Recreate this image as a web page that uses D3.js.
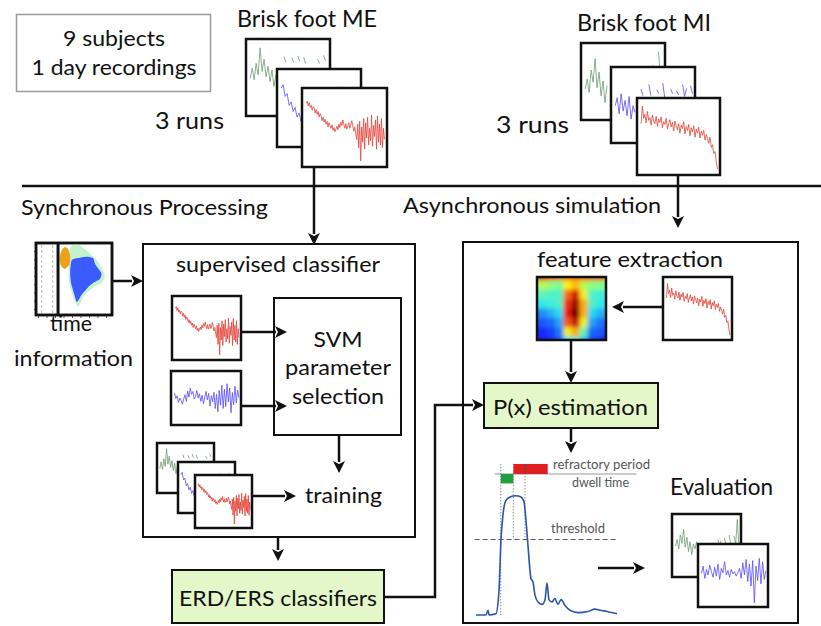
<!DOCTYPE html>
<html><head><meta charset="utf-8">
<script src="https://cdn.jsdelivr.net/npm/d3@7"></script>
<style>body{margin:0;background:#fff}svg{display:block}text{font-family:Lato,"Open Sans",sans-serif}</style>
</head><body><svg id="c" width="821" height="626"></svg>
<script>
// ---------- data ----------
const redME = [8.6,8.9,8.2,8.7,8.0,8.3,7.6,8.1,7.9,7.2,7.7,7.0,7.4,6.6,7.1,6.8,6.1,6.6,5.9,6.3,5.6,6.0,5.2,5.8,5.4,5.0,5.5,4.7,5.1,4.5,4.9,5.3,4.8,5.6,5.1,5.9,5.4,6.2,5.5,5.0,5.7,4.9,5.3,5.8,5.0,5.5,6.1,5.3,4.6,5.2,4.2,3.4,5.6,2.2,6.0,0.3,5.2,3.0,6.4,2.0,5.8,3.6,6.6,2.6,5.0,3.2,6.9,2.4,5.4,3.8,6.2,2.0,6.8,3.0,5.6,2.6,6.4,2.2,5.0,3.4];
const redMI = [7.0,9.6,7.8,8.4,7.1,8.8,7.5,7.9,6.8,8.3,7.4,7.0,8.1,6.6,7.7,7.2,8.0,6.4,7.3,6.9,7.8,6.2,7.0,7.6,6.5,7.2,5.9,7.4,6.7,6.1,7.0,5.6,6.8,6.3,7.3,5.5,6.6,6.0,6.9,5.2,6.4,5.8,6.7,5.0,6.2,5.6,6.5,4.9,5.9,5.3,6.0,4.6,5.4,4.8,4.1,5.0,3.5,3.9,2.6,2.9,1.4,0.3];
const blueSVM = [6.2,5.0,5.6,4.2,5.1,4.6,3.8,4.9,5.8,4.4,6.6,5.3,7.2,5.9,6.5,4.9,5.4,6.7,5.1,6.0,4.4,5.7,3.9,5.2,6.5,4.7,6.1,3.4,5.6,4.3,6.3,2.9,5.9,2.2,6.7,3.6,7.8,2.9,7.0,3.3,8.1,4.3,7.2,2.0,6.3,3.7,7.6,4.1,6.8,5.2];
const greenME = [5,6.5,4.8,7.2,5.5,9.5,6,7.8,5.2,6.8,4.5,6.2,3.8,5.5,4.2,null,null,8.2,7.4,null,null,8.0,7.3,null,8.3,7.5,null,8.1,7.2,null,null,null,null,null,7.8,7.2,null,8.4,7.6,null];
const blueME = [8,8.5,6.8,7.2,5.5,6,4.6,5.2,3.8,4.4,3.2,4.0,null,null,null,null,null,7.8,7.3,null,null,null,7.6,7.2,null,null,null,null,null,8.2,7.0,null,null,8.0,7.0,null,8.2,7.2,null,null];
const greenMI = [4,5.5,3.5,6.8,5,8.5,4.2,6.5,3,5.2,2,4.5,null,null,null,null,null,null,null,null,null,6.5,6,null,null,6.8,6.2,null,7,6,null,6.8,6.4,null,7.5,6.2,null,9.5,5.5,null];
const blueMI = [5,6.2,3.8,6.8,4.2,5.8,3.5,6.4,3,5,4,null,null,7.5,6.5,null,null,8.2,6.5,null,null,7.4,6.8,null,8.4,6.2,null,null,7.5,6.8,null,7.2,6.6,null,8.2,6.4,7.6,null,8.0,6.8];
const evalGreen = [5,6.2,4.5,7,5.5,8,4.8,6.6,4,5.8,3.5,5.4,4.5,5.8,4.2,null,null,5.2,4.8,null,5.4,5,null,5.6,5.1,null,6.2,5.2,6.0,null,6.5,5.3,null,7.0,5.2,null,6.8,5.4,9.8,5.0];
const evalBlue = [5.5,6.8,4.6,6.2,5.2,7.0,5.8,4.8,6.6,5.0,7.2,4.4,6.4,5.6,7.6,5.2,6.0,4.8,6.2,5.4,5.8,5.0,5.6,6.4,4.6,7.4,5.2,8.0,4.0,7.2,3.2,7.8,0.2,6.8,4.2,8.2,3.6,7.6,4.4,6.0];
// time-frequency map blobs (relative panel coords)
const tfHalo = [[0.45,0.06],[0.55,0.02],[0.66,0.1],[0.8,0.24],[0.9,0.42],[0.88,0.53],[0.78,0.6],[0.64,0.72],[0.56,0.88],[0.5,0.78],[0.44,0.56],[0.43,0.3]];
const tfBlue = [[0.47,0.24],[0.55,0.21],[0.66,0.19],[0.75,0.21],[0.78,0.3],[0.86,0.42],[0.84,0.5],[0.76,0.55],[0.68,0.62],[0.6,0.72],[0.54,0.82],[0.5,0.7],[0.46,0.55],[0.45,0.4]];
const tfOrange = [[0.33,0.12],[0.37,0.06],[0.42,0.08],[0.45,0.18],[0.44,0.3],[0.38,0.36],[0.33,0.32],[0.31,0.22]];
// feature-extraction map (rows top->bottom)
const featureMap = [
 [0.88,0.9,0.85,0.8,0.78,0.8,0.82,0.86,0.84,0.8],
 [0.5,0.55,0.5,0.48,0.62,0.68,0.55,0.5,0.5,0.45],
 [0.42,0.44,0.42,0.42,0.78,0.9,0.6,0.42,0.4,0.38],
 [0.35,0.38,0.4,0.42,0.85,0.97,0.7,0.42,0.38,0.35],
 [0.22,0.25,0.3,0.35,0.88,1.0,0.7,0.35,0.3,0.28],
 [0.15,0.18,0.2,0.28,0.8,0.92,0.6,0.28,0.22,0.2],
 [0.1,0.12,0.15,0.22,0.6,0.7,0.45,0.2,0.18,0.15],
 [0.08,0.1,0.12,0.18,0.35,0.4,0.3,0.15,0.12,0.12]];
// probability output over time
const probT = [0,7,8.5,9.2,14,16.2,17.6,19,21,24,28,31.7,33.8,35.2,36.6,38,38.7,40.1,41.5,43.7,46.5,48.6,50,51.4,53.5,55.6,57.7,59.9,62.7,66.2,71.8,78.9,83.8,87.3,92.3,99.3];
const probP = [0,0,0.04,0,0.01,0.21,0.64,0.85,0.97,1.0,1.01,1.0,0.96,0.8,0.59,0.38,0.31,0.28,0.17,0.11,0.09,0.13,0.27,0.13,0.11,0.14,0.09,0.13,0.08,0.04,0.02,0.03,0.05,0.04,0.03,0.01];
const thresholdLevel = 0.64;
const dwellWindow = [17.4,26.3];
const refractoryWindow = [26.3,50.5];
const refractoryMark = 34.5;

// ---------- drawing ----------
const svg = d3.select("#c");
const INK = "#111";
const RED = "#e2453c", BLUE = "#5a4dff", GREEN = "#6f9c72";
const BOXGREEN = "#e4f7c9";

function txt(s,x,y,size,w,anchor,color){
  const t = svg.append("text").attr("x",x).attr("y",y).attr("font-size",size)
    .attr("text-anchor",anchor||"start").attr("fill",color||INK).text(s);
  if(w) t.attr("textLength",w).attr("lengthAdjust","spacingAndGlyphs");
  return t;
}
function rect(x,y,w,h,opt){
  opt = opt||{};
  return svg.append("rect").attr("x",x).attr("y",y).attr("width",w).attr("height",h)
    .attr("fill",opt.fill||"#fff").attr("stroke",opt.stroke||INK).attr("stroke-width",opt.sw||2);
}
function arrow(pts){
  const hl = 12, hw = 6;
  const n = pts.length, [x1,y1] = pts[n-2], [x2,y2] = pts[n-1];
  const L = Math.hypot(x2-x1,y2-y1), ux=(x2-x1)/L, uy=(y2-y1)/L;
  const bx = x2-ux*hl, by = y2-uy*hl;
  const line = pts.slice(0,n-1).concat([[bx+ux*1,by+uy*1]]);
  svg.append("path").attr("d",d3.line()(line)).attr("fill","none").attr("stroke",INK).attr("stroke-width",2.5);
  svg.append("path").attr("d",d3.line()([[x2,y2],[bx-uy*hw,by+ux*hw],[bx+ux*3,by+uy*3],[bx+uy*hw,by-ux*hw]])+"Z").attr("fill",INK);
}
function panel(x,y,w,h,vals,color){
  rect(x,y,w,h,{sw:2.5});
  if(!vals) return;
  const xs = d3.scaleLinear().domain([0,vals.length-1]).range([x+w*0.05,x+w*0.97]);
  const ys = d3.scaleLinear().domain([0,10]).range([y+h*0.95,y+h*0.07]);
  const ln = d3.line().defined(d=>d!=null).x((d,i)=>xs(i)).y(d=>ys(d));
  svg.append("path").attr("d",ln(vals)).attr("fill","none").attr("stroke",color).attr("stroke-width",0.9).attr("opacity",0.9);
}

// header box
rect(16.5,14.5,194,77,{stroke:"#9a9a9a",sw:1.5});
txt("9 subjects",114,46,21,102,"middle");
txt("1 day recordings",114,75,21,165,"middle");

txt("Brisk foot ME",237,27,23,140);
txt("Brisk foot MI",577,31,23,134);
txt("3 runs",155,129,23,69);
txt("3 runs",496,133,23,73);

// stacks of runs
panel(246,39,84,77,greenME,GREEN);
panel(277,69,84,78,blueME,BLUE);
panel(302,88,85,79,redME,RED);
panel(581,43,84,77,greenMI,GREEN);
panel(611,67,84,76,blueMI,BLUE);
panel(637,98,83,77,redMI,RED);

// divider
svg.append("line").attr("x1",22).attr("x2",821).attr("y1",186).attr("y2",186).attr("stroke",INK).attr("stroke-width",2.5);
txt("Synchronous Processing",21,215,22,247);
txt("Asynchronous simulation",403,213,22,258);
arrow([[314,167],[314,245]]);
arrow([[678,176],[678,228]]);

// main boxes
rect(143,244,272,293,{sw:2});
rect(463,242,335,381,{sw:2});
txt("supervised classifier",176,272,21,204);
txt("feature extraction",537,267,21,186);

// time-frequency map
(function(){
  const x0=36,y0=243,w=76,h=72;
  rect(x0,y0,w,h,{sw:2.5});
  const sx=d3.scaleLinear().domain([0,1]).range([x0,x0+w]);
  const sy=d3.scaleLinear().domain([0,1]).range([y0,y0+h]);
  const blob=d3.line().x(d=>sx(d[0])).y(d=>sy(d[1])).curve(d3.curveCardinalClosed.tension(0.3));
  [0.075,0.22].forEach(v=>svg.append("line").attr("x1",sx(v)).attr("x2",sx(v)).attr("y1",y0+2).attr("y2",y0+h-2)
     .attr("stroke","#bbb").attr("stroke-width",1).attr("stroke-dasharray","3,2"));
  svg.append("path").attr("d",blob(tfHalo)).attr("fill","#c4f2cc");
  svg.append("path").attr("d",blob(tfBlue)).attr("fill","#3b5bff");
  svg.append("path").attr("d",blob(tfOrange)).attr("fill","#eba21a");
  svg.append("line").attr("x1",sx(0.29)).attr("x2",sx(0.29)).attr("y1",y0).attr("y2",y0+h).attr("stroke",INK).attr("stroke-width",3);
  const ay=d3.axisLeft(d3.scaleLinear().domain([0,7]).range([y0+h-6,y0+8])).ticks(7).tickSize(2).tickFormat("");
  svg.append("g").attr("transform",`translate(${x0},0)`).call(ay).call(g=>g.select(".domain").remove()).selectAll("line").attr("stroke","#555");
  const ax=d3.axisBottom(d3.scaleLinear().domain([0,8]).range([x0+2,x0+w-6])).ticks(8).tickSize(3).tickFormat("");
  svg.append("g").attr("transform",`translate(0,${y0+h})`).call(ax).call(g=>g.select(".domain").remove()).selectAll("line").attr("stroke","#555");
  rect(x0,y0,w,h,{fill:"none",sw:2.5});
})();
arrow([[112,281],[143,281]]);
txt("time",50,331,21,42);
txt("information",14,366,21,119);

// supervised classifier content
panel(172,296,69,64,redME,RED);
panel(171,371,70,54,blueSVM,BLUE);
rect(274,298,127,137,{sw:2});
txt("SVM",338,347,22,49,"middle");
txt("parameter",338,375,22,106,"middle");
txt("selection",338,404,22,92,"middle");
arrow([[241,332],[287,332]]);
arrow([[241,406],[287,406]]);
arrow([[339,435],[339,473]]);
panel(157,443,57,50,greenME,GREEN);
panel(178,462,57,51,blueME,BLUE);
panel(195,475,57,53,redME,RED);
arrow([[252,496],[296,496]]);
txt("training",305,503,21,77);

// classifiers
arrow([[278,537],[278,561]]);
rect(172,570,212,53,{fill:BOXGREEN,sw:2});
txt("ERD/ERS classifiers",179,606,22,198);
arrow([[384,597],[435,597],[435,405],[484,405]]);

// feature extraction
(function(){
  const x0=537,y0=277,w=69,h=63;
  const id="clipHM";
  const defs=svg.append("defs");
  defs.append("clipPath").attr("id",id).append("rect").attr("x",x0).attr("y",y0).attr("width",w).attr("height",h);
  defs.append("filter").attr("id","blurHM").attr("x","-20%").attr("y","-20%").attr("width","140%").attr("height","140%")
    .append("feGaussianBlur").attr("stdDeviation",2.2);
  const jet=d3.scaleLinear().domain([0,0.12,0.37,0.5,0.62,0.87,1])
    .range(["#00007f","#1428ff","#2ce8f0","#8cff80","#ffee10","#f02010","#7a0000"]);
  const rows=featureMap.length, cols=featureMap[0].length;
  const m=6;
  const cx=d3.scaleLinear().domain([0,cols]).range([x0-m,x0+w+m]);
  const cy=d3.scaleLinear().domain([0,rows]).range([y0-m,y0+h+m]);
  const g=svg.append("g").attr("clip-path",`url(#${id})`).append("g").attr("filter","url(#blurHM)");
  featureMap.forEach((row,r)=>row.forEach((v,c)=>{
    g.append("rect").attr("x",cx(c)).attr("y",cy(r)).attr("width",cx(1)-cx(0)+0.5).attr("height",cy(1)-cy(0)+0.5).attr("fill",jet(v));
  }));
  rect(x0,y0,w,h,{fill:"none",sw:2.5});
})();
panel(663,277,69,63,redMI,RED);
arrow([[663,307],[612,307]]);
arrow([[571,340],[571,383]]);

rect(484,383,174,45,{fill:BOXGREEN,sw:2});
txt("P(x) estimation",493,415,22,155);
arrow([[571,428],[571,453]]);

// threshold plot
(function(){
  const tx=d3.scaleLinear().domain([0,100]).range([476,618]);
  const ty=d3.scaleLinear().domain([0,1]).range([615,497]);
  const topLine=1.195, refTop=1.28, dwellBot=1.115;
  svg.append("line").attr("x1",tx(13)).attr("x2",tx(113)).attr("y1",ty(topLine)).attr("y2",ty(topLine)).attr("stroke","#999").attr("stroke-width",1);
  svg.append("rect").attr("x",tx(dwellWindow[0])).attr("y",ty(topLine)).attr("width",tx(dwellWindow[1])-tx(dwellWindow[0])).attr("height",ty(dwellBot)-ty(topLine)).attr("fill","#22a040");
  svg.append("rect").attr("x",tx(refractoryWindow[0])).attr("y",ty(refTop)).attr("width",tx(refractoryWindow[1])-tx(refractoryWindow[0])).attr("height",ty(topLine)-ty(refTop)).attr("fill","#e02020");
  svg.append("line").attr("x1",tx(refractoryMark)).attr("x2",tx(refractoryMark)).attr("y1",ty(refTop)).attr("y2",ty(topLine)).attr("stroke","#333").attr("stroke-width",1).attr("stroke-dasharray","2,1");
  [[dwellWindow[0],0],[dwellWindow[1],thresholdLevel],[refractoryMark,thresholdLevel]].forEach(([v,lo])=>
    svg.append("line").attr("x1",tx(v)).attr("x2",tx(v)).attr("y1",ty(refTop)).attr("y2",ty(lo)).attr("stroke","#777").attr("stroke-width",0.8).attr("stroke-dasharray","1.5,1.5"));
  svg.append("line").attr("x1",tx(-1)).attr("x2",tx(99)).attr("y1",ty(thresholdLevel)).attr("y2",ty(thresholdLevel)).attr("stroke","#555").attr("stroke-width",1).attr("stroke-dasharray","5,3");
  const ln=d3.line().x((d,i)=>tx(probT[i])).y(d=>ty(d)).curve(d3.curveMonotoneX);
  svg.append("path").attr("d",ln(probP)).attr("fill","none").attr("stroke","#2a55a8").attr("stroke-width",1.6);
  txt("refractory period",553,469,13,97,"start","#555");
  txt("dwell time",572,487,13,57,"start","#555");
  txt("threshold",551,533,13,54,"start","#555");
})();
arrow([[598,568],[645,568]]);
txt("Evaluation",670,495,23,103);
panel(672,514,69,63,evalGreen,GREEN);
panel(698,544,70,63,evalBlue,BLUE);
</script></body></html>
